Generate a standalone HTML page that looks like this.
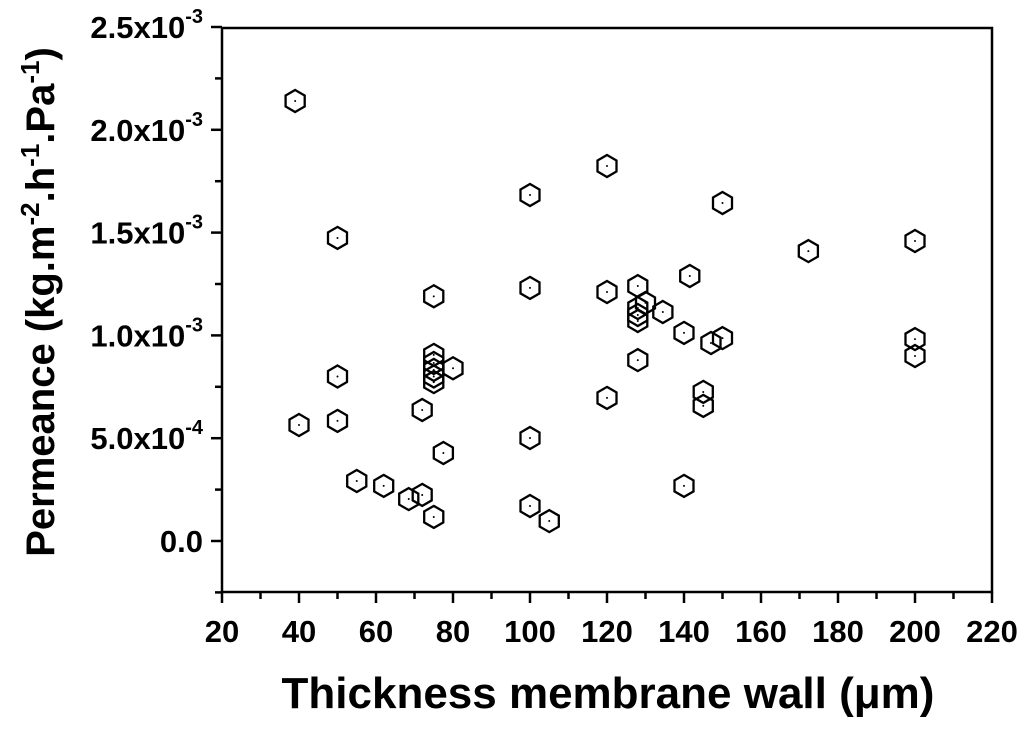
<!DOCTYPE html>
<html><head><meta charset="utf-8"><style>
body{margin:0;background:#fff;}
svg text{font-family:"Liberation Sans",Arial,sans-serif;font-weight:bold;fill:#000;}
</style></head><body>
<svg id="chart" width="1024" height="731" viewBox="0 0 1024 731" xmlns="http://www.w3.org/2000/svg">
<rect x="222" y="28" width="770" height="564" fill="none" stroke="#000" stroke-width="2.5"/>
<g id="axes"></g>
<g id="points"></g>
<text x="608" y="708" font-size="44" text-anchor="middle">Thickness membrane wall (μm)</text>
<text transform="translate(54,302) rotate(-90)" font-size="40" text-anchor="middle">Permeance (kg.m<tspan dy="-15" font-size="26">-2</tspan><tspan dy="15">.h</tspan><tspan dy="-15" font-size="26">-1</tspan><tspan dy="15">.Pa</tspan><tspan dy="-15" font-size="26">-1</tspan><tspan dy="15">)</tspan></text>
</svg>
<script>
const thickness=[39,50,50,50,40,75,75,75,75,75,75,80,72,77.5,55,62,68.5,72,75,100,100,100,100,105,120,120,120,128,128,128,128,130,134.5,128,140,140,141.5,150,150,147,145,145,172.3,200,200,200];
const permeance=[2.14,1.474,0.80,0.584,0.564,1.19,0.905,0.866,0.832,0.80,0.773,0.84,0.637,0.428,0.292,0.268,0.204,0.224,0.117,1.683,1.231,0.501,0.17,0.097,1.824,1.211,0.696,1.24,1.133,1.099,1.07,1.158,1.114,0.88,1.012,0.268,1.289,1.644,0.987,0.963,0.725,0.657,1.41,1.459,0.982,0.9];
const xTicks=[20,40,60,80,100,120,140,160,180,200,220];
const yTicks=[0,0.5,1.0,1.5,2.0,2.5];
const yTickLabels=["0.0","5.0x10","1.0x10","1.5x10","2.0x10","2.5x10"];
const yTickExp=["","-4","-3","-3","-3","-3"];
const NS="http://www.w3.org/2000/svg";
const X0=222,X1=992,Y0=592,Y1=28;
const xs=v=>X0+(v-20)/200*(X1-X0);
const ys=v=>541-v*205.6;
const axes=document.getElementById('axes');
function mk(t,a,p){const e=document.createElementNS(NS,t);for(const k in a)e.setAttribute(k,a[k]);p.appendChild(e);return e;}
for(let v=20;v<=220;v+=10){const x=xs(v);const major=v%20===0;
 const l=mk('line',{x1:x,x2:x,y1:Y0,y2:Y0+(major?11:7),stroke:'#000','stroke-width':2.5},axes);
 
 }
xTicks.forEach(v=>{const t=mk('text',{x:xs(v),y:642,'font-size':31,'text-anchor':'middle'},axes);t.textContent=v;
 
 });
for(let v=-0.25;v<=2.5001;v+=0.25){const y=ys(v);const major=Math.abs(v*2-Math.round(v*2))<1e-6&&v>=0;
 const l=mk('line',{x1:X0,x2:X0-(major?11:7),y1:y,y2:y,stroke:'#000','stroke-width':2.5},axes);
 
 }
yTicks.forEach((v,i)=>{const t=mk('text',{x:203,y:ys(v)+11,'font-size':31,'text-anchor':'end'},axes);
 t.textContent=yTickLabels[i];
 if(yTickExp[i]){const s=document.createElementNS(NS,'tspan');s.setAttribute('dy','-15');s.setAttribute('font-size','20');s.textContent=yTickExp[i];t.appendChild(s);}
 
 });
const pg=document.getElementById('points');
thickness.forEach((tv,i)=>{const cx=xs(tv),cy=ys(permeance[i]);const r=11;let pts=[];
 for(let k=0;k<6;k++){const a=Math.PI/180*(60*k-90);pts.push((cx+r*Math.cos(a)).toFixed(1)+','+(cy+r*Math.sin(a)).toFixed(1));}
 const g=mk('g',{},pg);
 
 
 mk('polygon',{points:pts.join(' '),fill:'none',stroke:'#000','stroke-width':2.3},g);
 mk('circle',{cx:cx,cy:cy,r:1,fill:'#000'},g);});
</script>
</body></html>
